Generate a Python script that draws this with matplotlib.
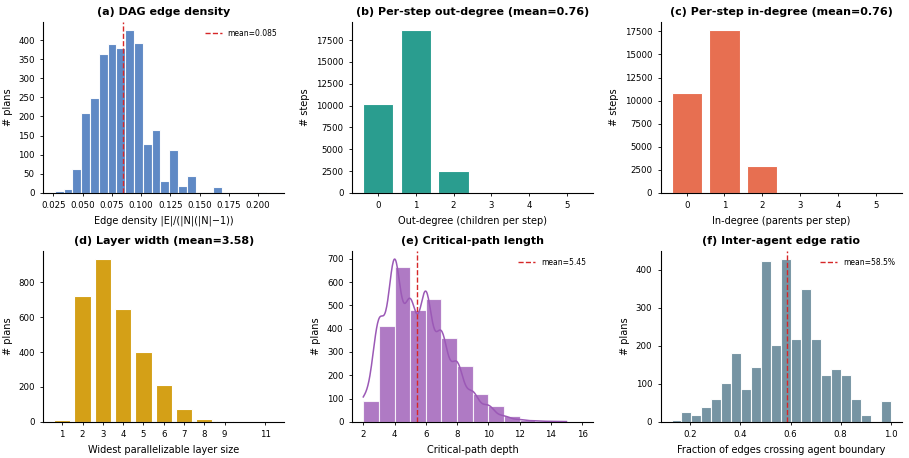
import numpy as np
import matplotlib
matplotlib.use("Agg")
import matplotlib.pyplot as plt

plt.rcParams['font.family'] = ['DejaVu Sans']
plt.rcParams['axes.spines.top'] = False
plt.rcParams['axes.spines.right'] = False
plt.rcParams['xtick.labelsize'] = 6.2
plt.rcParams['ytick.labelsize'] = 6.2
plt.rcParams['axes.labelsize'] = 7
plt.rcParams['axes.linewidth'] = 0.8
plt.rcParams['xtick.major.size'] = 2.5
plt.rcParams['ytick.major.size'] = 2.5
plt.rcParams['xtick.major.width'] = 0.6
plt.rcParams['ytick.major.width'] = 0.6

# (a) edge density histogram (24 bins)
density_lo, density_hi = 0.0264, 0.2066
density_counts = [5, 11, 63, 210, 249, 363, 389, 378, 426, 392, 127, 164,
                  32, 112, 17, 45, 2, 2, 16, 0, 0, 0, 0, 2]
density_mean = 0.085

# (b) out-degree, (c) in-degree
degree_vals = [0, 1, 2, 3, 4, 5]
out_counts = [10130, 18650, 2530, 25, 3, 1]
in_counts = [10790, 17640, 2960, 130, 8, 2]
out_mean = 0.76
in_mean = 0.76

# (d) widest layer
width_vals = [1, 2, 3, 4, 5, 6, 7, 8, 9, 11]
width_counts = [13, 723, 934, 647, 403, 209, 71, 17, 2, 1]
width_mean = 3.58

# (e) critical path depth
depth_vals = [2, 3, 4, 5, 6, 7, 8, 9, 10, 11, 12, 13, 14, 15]
depth_counts = [89, 413, 666, 481, 529, 360, 239, 119, 66, 23, 9, 4, 2, 1]
depth_mean = 5.45

# (f) inter-agent edge ratio (22 bins)
ratio_lo, ratio_hi = 0.125, 1.0
ratio_counts = [5, 25, 18, 39, 59, 102, 181, 87, 144, 424, 202, 428,
                217, 349, 218, 122, 139, 122, 59, 19, 0, 56]
ratio_mean = 0.585

C_BLUE = '#5683c2'
C_TEAL = '#2a9d8f'
C_ORANGE = '#e76f51'
C_GOLD = '#d4a017'
C_PURPLE = '#9b59b6'
C_SLATE = '#6f8e9e'
C_MEAN = '#d62728'

fig, axes = plt.subplots(2, 3, figsize=(9.09, 4.58), dpi=100)
fig.subplots_adjust(left=0.0475, right=0.992, top=0.952, bottom=0.079,
                    wspace=0.28, hspace=0.34)


def title(ax, s):
    ax.set_title(s, fontsize=8, fontweight='bold', pad=5)


def mean_line(ax, x, label):
    ax.axvline(x, color=C_MEAN, linestyle='--', linewidth=1.0, label=label)
    ax.legend(loc='upper right', frameon=False, fontsize=5.5, handlelength=2.2)


# (a)
ax = axes[0, 0]
edges = np.linspace(density_lo, density_hi, len(density_counts) + 1)
ax.hist(edges[:-1], bins=edges, weights=density_counts, color=C_BLUE,
        edgecolor='white', linewidth=0.8, alpha=0.95)
mean_line(ax, density_mean, f'mean={density_mean:.3f}')
ax.set_xlim(0.0164, 0.2224)
ax.set_xticks([0.025, 0.05, 0.075, 0.1, 0.125, 0.15, 0.175, 0.2])
ax.set_xticklabels(['0.025', '0.050', '0.075', '0.100', '0.125', '0.150', '0.175', '0.200'])
ax.set_xlabel('Edge density |E|/(|N|(|N|\u22121))')
ax.set_ylabel('# plans')
title(ax, '(a) DAG edge density')

# (b)
ax = axes[0, 1]
ax.bar(degree_vals, out_counts, color=C_TEAL, edgecolor='white', linewidth=0.8)
ax.set_xticks(degree_vals)
ax.set_xlabel('Out-degree (children per step)')
ax.set_ylabel('# steps')
title(ax, f'(b) Per-step out-degree (mean={out_mean:.2f})')

# (c)
ax = axes[0, 2]
ax.bar(degree_vals, in_counts, color=C_ORANGE, edgecolor='white', linewidth=0.8)
ax.set_xticks(degree_vals)
ax.set_xlabel('In-degree (parents per step)')
ax.set_ylabel('# steps')
title(ax, f'(c) Per-step in-degree (mean={in_mean:.2f})')

# (d)
ax = axes[1, 0]
ax.bar(width_vals, width_counts, color=C_GOLD, edgecolor='white', linewidth=0.8)
ax.set_xticks(width_vals)
ax.set_xlabel('Widest parallelizable layer size')
ax.set_ylabel('# plans')
title(ax, f'(d) Layer width (mean={width_mean:.2f})')

# (e) histogram + weighted gaussian kde
ax = axes[1, 1]
dv = np.array(depth_vals, dtype=float)
dw = np.array(depth_counts, dtype=float)
bins = np.arange(dv.min(), dv.max() + 1)
ax.hist(dv, bins=bins, weights=dw, color=C_PURPLE, alpha=0.8,
        edgecolor='white', linewidth=0.8)
n = dw.sum()
mu = (dv * dw).sum() / n
sd = np.sqrt(((dv - mu) ** 2 * dw).sum() / n)
bw = sd * n ** (-1 / 5)
xs = np.linspace(dv.min(), dv.max(), 400)
dens = (dw[None, :] * np.exp(-0.5 * ((xs[:, None] - dv[None, :]) / bw) ** 2)).sum(1)
dens = dens / (bw * np.sqrt(2 * np.pi))
ax.plot(xs, dens, color=C_PURPLE, linewidth=1.1)
mean_line(ax, depth_mean, f'mean={depth_mean:.2f}')
ax.set_xlim(1.27, 16.7)
ax.set_xticks([2, 4, 6, 8, 10, 12, 14, 16])
ax.set_xlabel('Critical-path depth')
ax.set_ylabel('# plans')
title(ax, '(e) Critical-path length')

# (f)
ax = axes[1, 2]
edges = np.linspace(ratio_lo, ratio_hi, len(ratio_counts) + 1)
ax.hist(edges[:-1], bins=edges, weights=ratio_counts, color=C_SLATE,
        edgecolor='white', linewidth=0.8, alpha=0.95)
mean_line(ax, ratio_mean, f'mean={ratio_mean * 100:.1f}%')
ax.set_yticks([0, 100, 200, 300, 400])
ax.set_xticks([0.2, 0.4, 0.6, 0.8, 1.0])
ax.set_xlabel('Fraction of edges crossing agent boundary')
ax.set_ylabel('# plans')
title(ax, '(f) Inter-agent edge ratio')

fig.savefig('out.png', dpi=100)
